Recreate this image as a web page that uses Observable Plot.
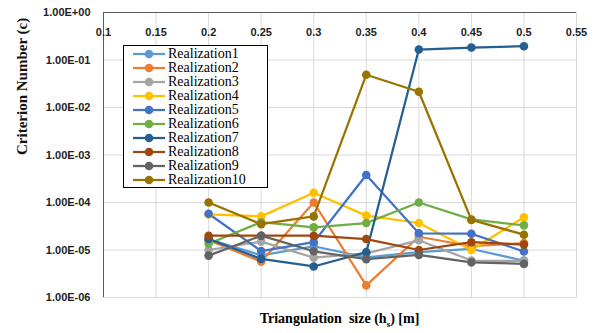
<!DOCTYPE html>
<html>
<head>
<meta charset="utf-8">
<script src="https://cdn.jsdelivr.net/npm/d3@7"></script>
<script src="https://cdn.jsdelivr.net/npm/@observablehq/plot@0.6"></script>
<style>
  html, body { margin: 0; padding: 0; background: #fff; }
  #wrap { position: relative; width: 597px; height: 333px; overflow: hidden; }
  #legend { position: absolute; left: 123px; top: 45px; width: 145px; height: 143px; box-sizing: border-box;
    border: 1px solid #000; background: #fff; font-family: "Liberation Serif", "Times New Roman", serif; font-size: 14px; }
  .li { position: absolute; left: 8px; height: 14px; display: flex; align-items: center; }
  .li svg { display: block; }
  .li span { margin-left: 2px; line-height: 14px; }
  #xtitle { position: absolute; top: 311px; left: 0; width: 679px; text-align: center;
    font-family: "Liberation Serif", "Times New Roman", serif; font-weight: bold; font-size: 14px; }
  #xtitle sub { font-size: 9px; }
</style>
</head>
<body>
<div id="wrap"></div>
<script>
const xValues = [0.2, 0.25, 0.3, 0.35, 0.4, 0.45, 0.5];
const seriesNames = ["Realization1","Realization2","Realization3","Realization4","Realization5",
  "Realization6","Realization7","Realization8","Realization9","Realization10"];
const seriesColors = ["#5B9BD5","#ED7D31","#A5A5A5","#FFC000","#4472C4",
  "#70AD47","#255E91","#9E480E","#636363","#997300"];
const r1  = [1.7e-5, 7.7e-6, 1.2e-5, 7.0e-6, 9.0e-6, 1.05e-5, 6.0e-6];
const r2  = [1.6e-5, 5.7e-6, 1.0e-4, 1.8e-6, 1.9e-5, 1.2e-5, 1.4e-5];
const r3  = [1.0e-5, 1.5e-5, 6.9e-6, 8.5e-6, 1.6e-5, 6.0e-6, 5.9e-6];
const r4  = [5.6e-5, 5.1e-5, 1.6e-4, 5.3e-5, 3.7e-5, 1.0e-5, 4.9e-5];
const r5  = [5.8e-5, 9.5e-6, 1.46e-5, 3.8e-4, 2.25e-5, 2.2e-5, 9.3e-6];
const r6  = [1.35e-5, 3.85e-5, 3.0e-5, 3.7e-5, 1.0e-4, 4.4e-5, 3.3e-5];
const r7  = [1.7e-5, 6.5e-6, 4.5e-6, 9.0e-6, 1.66e-1, 1.83e-1, 1.95e-1];
const r8  = [2.0e-5, 2.0e-5, 2.0e-5, 1.7e-5, 1.0e-5, 1.46e-5, 1.3e-5];
const r9  = [7.6e-6, 2.0e-5, 9.4e-6, 6.4e-6, 7.9e-6, 5.5e-6, 5.1e-6];
const r10 = [1.0e-4, 3.5e-5, 5.1e-5, 4.9e-2, 2.15e-2, 4.3e-5, 2.1e-5];
const xTicks = [0.1, 0.15, 0.2, 0.25, 0.3, 0.35, 0.4, 0.45, 0.5, 0.55];
const xTickLabels = ["0.1","0.15","0.2","0.25","0.3","0.35","0.4","0.45","0.5","0.55"];
const yTicks = [1e-6, 1e-5, 1e-4, 1e-3, 1e-2, 1e-1, 1];
const yTickLabels = ["1.00E-06","1.00E-05","1.00E-04","1.00E-03","1.00E-02","1.00E-01","1.00E+00"];
const yTitle = "Criterion Number (c)";

const allSeries = [r1, r2, r3, r4, r5, r6, r7, r8, r9, r10];
const rows = [];
allSeries.forEach((vals, i) => vals.forEach((v, j) => rows.push({series: seriesNames[i], x: xValues[j], y: v})));

const tickFont = "'Liberation Sans', Arial, sans-serif";
const chart = Plot.plot({
  width: 597, height: 333,
  marginLeft: 103, marginRight: 21, marginTop: 12, marginBottom: 36,
  style: {background: "#fff", overflow: "visible"},
  x: {domain: [0.1, 0.55], axis: null},
  y: {type: "log", domain: [1e-6, 1], axis: null},
  color: {domain: seriesNames, range: seriesColors},
  marks: [
    Plot.gridX(xTicks, {stroke: "#d9d9d9", strokeOpacity: 1, strokeWidth: 1}),
    Plot.gridY(yTicks, {stroke: "#d9d9d9", strokeOpacity: 1, strokeWidth: 1}),
    Plot.frame({stroke: "#d9d9d9"}),
    Plot.ruleX([0.1], {stroke: "#595959"}),
    Plot.ruleY([1], {stroke: "#595959"}),
    Plot.text(xTicks, {x: d => d, text: (d, i) => xTickLabels[i], frameAnchor: "top", dy: 16,
      fontFamily: tickFont, fontWeight: "bold", fontSize: 11, fill: "#222"}),
    Plot.text(yTicks, {y: d => d, text: (d, i) => yTickLabels[i], frameAnchor: "left", dx: -13, textAnchor: "end",
      fontFamily: tickFont, fontWeight: "bold", fontSize: 11, fill: "#222"}),
    Plot.text([yTitle], {text: d => d, frameAnchor: "left", dx: -81, rotate: -90,
      fontFamily: "'Liberation Serif', 'Times New Roman', serif", fontWeight: "bold", fontSize: 15, fill: "#111"}),
    Plot.line(rows, {x: "x", y: "y", z: "series", stroke: "series", strokeWidth: 2.25}),
    Plot.dot(rows, {x: "x", y: "y", fill: "series", r: 4.3})
  ]
});
const wrap = document.getElementById("wrap");
wrap.appendChild(chart);

const xt = document.createElement("div");
xt.id = "xtitle";
xt.innerHTML = "Triangulation&nbsp; size (h<sub>s</sub>) [m]";
wrap.appendChild(xt);

const lg = document.createElement("div");
lg.id = "legend";
seriesNames.forEach((n, i) => {
  const it = document.createElement("div");
  it.className = "li";
  it.style.top = (0.5 + i * 14.1) + "px";
  it.innerHTML = `<svg width="34" height="12"><line x1="1" x2="33" y1="6" y2="6" stroke="${seriesColors[i]}" stroke-width="2.25"/><circle cx="17" cy="6" r="4.3" fill="${seriesColors[i]}"/></svg><span>${n}</span>`;
  lg.appendChild(it);
});
wrap.appendChild(lg);
</script>
</body>
</html>
